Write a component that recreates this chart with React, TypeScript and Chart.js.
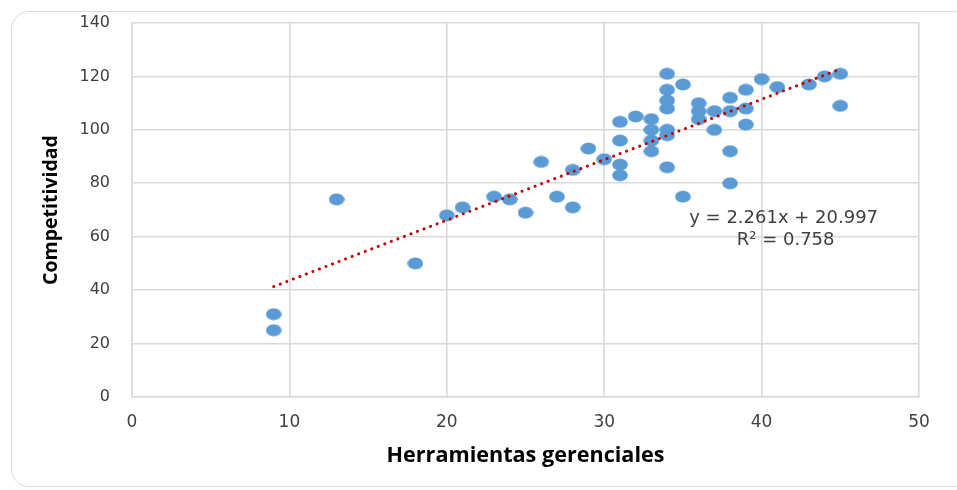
import React, { useEffect, useRef } from "react";
import { Chart, registerables } from "chart.js";

Chart.register(...registerables);

// Herramientas gerenciales (x) and Competitividad (y)
const xValues = [
  9, 9, 13, 18, 20, 21, 23, 24, 25, 26, 27, 28, 28, 29, 30,
  31, 31, 31, 31, 32, 33, 33, 33, 33,
  34, 34, 34, 34, 34, 34, 34, 35, 35,
  36, 36, 36, 37, 37, 38, 38, 38, 38,
  39, 39, 39, 40, 41, 43, 44, 45, 45,
];
const yValues = [
  31, 25, 74, 50, 68, 71, 75, 74, 69, 88, 75, 71, 85, 93, 89,
  103, 96, 87, 83, 105, 104, 100, 96, 92,
  121, 115, 111, 108, 100, 98, 86, 117, 75,
  110, 107, 104, 107, 100, 112, 107, 92, 80,
  115, 108, 102, 119, 116, 117, 120, 121, 109,
];

const trendSlope = 2.261;
const trendIntercept = 20.997;
const trendRange = [9, 45];
const equationLines = ["y = 2.261x + 20.997", "R² = 0.758"];

const xTicks = [0, 10, 20, 30, 40, 50];
const yTicks = [0, 20, 40, 60, 80, 100, 120, 140];

const xTitle = "Herramientas gerenciales";
const yTitle = "Competitividad";

export default function App() {
  const canvasRef = useRef<HTMLCanvasElement | null>(null);

  useEffect(() => {
    const canvas = canvasRef.current;
    if (!canvas) return;

    const marker = document.createElement("canvas");
    marker.width = 16;
    marker.height = 13;
    const mctx = marker.getContext("2d")!;
    mctx.fillStyle = "#5B9BD5";
    mctx.beginPath();
    mctx.ellipse(8, 6.5, 7.8, 6.1, 0, 0, Math.PI * 2);
    mctx.fill();

    const points = xValues.map((x, i) => ({ x, y: yValues[i] }));
    const trend = trendRange.map((x) => ({ x, y: trendSlope * x + trendIntercept }));

    const equationPlugin = {
      id: "equation",
      afterDatasetsDraw(chart: any) {
        const { ctx, scales } = chart;
        ctx.save();
        ctx.fillStyle = "#404040";
        ctx.font = "18px 'DejaVu Sans'";
        ctx.textAlign = "center";
        ctx.textBaseline = "middle";
        const cx = scales.x.getPixelForValue(41.4);
        ctx.fillText(equationLines[0], cx, scales.y.getPixelForValue(66.8));
        ctx.fillText(equationLines[1], cx + 2, scales.y.getPixelForValue(58.5));
        ctx.restore();
      },
    };

    const chart = new Chart(canvas, {
      type: "scatter",
      data: {
        datasets: [
          {
            type: "line",
            label: "Tendencia",
            data: trend,
            borderColor: "#C00000",
            borderWidth: 3,
            borderDash: [0.1, 6.9],
            borderCapStyle: "round",
            pointRadius: 0,
            fill: false,
            order: 0,
          } as any,
          {
            label: "Competitividad",
            data: points,
            pointStyle: marker as any,
            pointRadius: 7,
            backgroundColor: "#5B9BD5",
            borderColor: "#5B9BD5",
            order: 1,
          },
        ],
      },
      options: {
        responsive: false,
        animation: false,
        layout: { autoPadding: false, padding: { top: 23, right: 38, left: 0, bottom: 0 } },
        plugins: {
          legend: { display: false },
          tooltip: { enabled: false },
        },
        scales: {
          x: {
            type: "linear",
            min: xTicks[0],
            max: xTicks[xTicks.length - 1],
            afterBuildTicks: (scale: any) => {
              scale.ticks = xTicks.map((v) => ({ value: v }));
            },
            afterFit: (scale: any) => {
              scale.height = 93;
            },
            ticks: {
              color: "#404040",
              font: { family: "'DejaVu Sans'", size: 17 },
              padding: 15,
            },
            grid: { color: "#d9d9d9", lineWidth: 1.6, drawTicks: false },
            border: { color: "#d9d9d9", width: 1.6 },
            title: {
              display: true,
              text: xTitle,
              color: "#000000",
              font: { family: "'Open Sans'", size: 21.6, weight: "bold" },
              padding: { top: 0, bottom: 21 },
            },
          },
          y: {
            type: "linear",
            min: yTicks[0],
            max: yTicks[yTicks.length - 1],
            afterBuildTicks: (scale: any) => {
              scale.ticks = yTicks.map((v) => ({ value: v }));
            },
            afterFit: (scale: any) => {
              scale.width = 132;
            },
            ticks: {
              color: "#404040",
              font: { family: "'DejaVu Sans'", size: 16 },
              padding: 0,
            },
            grid: {
              color: "#d9d9d9",
              lineWidth: 1.6,
              drawTicks: true,
              tickLength: 22,
              tickColor: "rgba(0,0,0,0)",
            },
            border: { color: "#d9d9d9", width: 1.6 },
            title: {
              display: true,
              text: yTitle,
              color: "#000000",
              font: { family: "'Open Sans'", size: 19.5, weight: "bold" },
              padding: { top: 40, bottom: 0 },
            },
          },
        },
      },
      plugins: [equationPlugin],
    });

    return () => chart.destroy();
  }, []);

  return (
    <div style={{ position: "fixed", left: 0, top: 0, width: 957, height: 490, background: "#fff", overflow: "hidden" }}>
      <div
        style={{
          position: "absolute",
          left: 11,
          top: 11,
          width: 960,
          height: 476,
          border: "1.5px solid #d9d9d9",
          borderRadius: 18,
          boxSizing: "border-box",
        }}
      />
      <canvas ref={canvasRef} width={957} height={490} style={{ position: "absolute", left: 0, top: 0 }} />
    </div>
  );
}
